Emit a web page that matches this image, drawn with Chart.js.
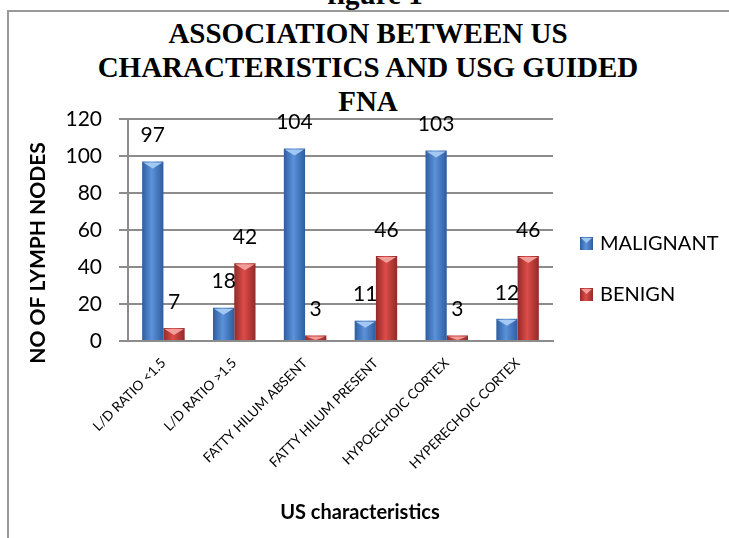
<!DOCTYPE html>
<html>
<head>
<meta charset="utf-8">
<script src="https://cdn.jsdelivr.net/npm/chart.js@4"></script>
<style>
  body { margin:0; background:#fff; }
  #wrap { position:relative; width:729px; height:538px; overflow:hidden; }
  #frame { position:absolute; left:7px; top:10px; width:740px; height:600px; border-left:2px solid #999; border-top:2px solid #999; }
  .ttl { position:absolute; left:0; width:736px; text-align:center; font-family:"Liberation Serif", serif; font-weight:bold; font-size:29px; line-height:34px; color:#000; }
  #fig { top:-23px; left:7px; }
  #title { top:16px; }
  canvas { position:absolute; left:0; top:0; }
</style>
</head>
<body>
<div id="wrap">
  <div id="fig" class="ttl">figure 1</div>
  <div id="frame"></div>
  <div id="title" class="ttl">ASSOCIATION BETWEEN US<br>CHARACTERISTICS AND USG GUIDED<br>FNA</div>
  <canvas id="chart" width="729" height="538"></canvas>
</div>
<script>
const categories = ['L/D RATIO <1.5','L/D RATIO >1.5','FATTY HILUM ABSENT','FATTY HILUM PRESENT','HYPOECHOIC CORTEX','HYPERECHOIC CORTEX'];
const malignant = [97, 18, 104, 11, 103, 12];
const benign = [7, 42, 3, 46, 3, 46];
const seriesNames = ['MALIGNANT','BENIGN'];
const yTicks = [0, 20, 40, 60, 80, 100, 120];

const palette = [
  {edge:'#2d5d9f', mid:'#5b92da', top:'#a3c8f2'},
  {edge:'#922a28', mid:'#dd4c48', top:'#f29e9a'}
];
const nb = n => '\u00a0'.repeat(n);

function shade(ctx, x0, x1, p){
  const g = ctx.createLinearGradient(x0,0,x1,0);
  g.addColorStop(0,p.edge); g.addColorStop(0.45,p.mid); g.addColorStop(1,p.edge);
  return g;
}

// shaded bars + top bevel + value labels
const barStyle = {
  id:'barStyle',
  beforeDatasetsDraw(chart){
    const ctx = chart.ctx;
    chart.data.datasets.forEach((ds,i)=>{
      chart.getDatasetMeta(i).data.forEach(bar=>{
        bar.options = Object.assign({}, bar.options, {backgroundColor: shade(ctx, bar.x-bar.width/2, bar.x+bar.width/2, palette[i])});
      });
    });
  },
  afterDatasetsDraw(chart){
    const ctx = chart.ctx;
    ctx.save();
    chart.data.datasets.forEach((ds,i)=>{
      chart.getDatasetMeta(i).data.forEach((bar,j)=>{
        const l = bar.x-bar.width/2, r = bar.x+bar.width/2;
        const h = Math.min(7, bar.base-bar.y);
        ctx.fillStyle = palette[i].top;
        ctx.beginPath();
        ctx.moveTo(l+1,bar.y+1); ctx.lineTo(r-1,bar.y+1); ctx.lineTo(bar.x,bar.y+h); ctx.closePath();
        ctx.fill();
        ctx.fillStyle = '#000';
        ctx.font = '21px Lato';
        ctx.textAlign = 'center';
        ctx.textBaseline = 'middle';
        ctx.fillText(String(ds.data[j]), bar.x, bar.y-26);
      });
    });
    ctx.restore();
  },
  afterDraw(chart){
    const ctx = chart.ctx, a = chart.chartArea;
    ctx.save();
    chart.data.datasets.forEach((ds,i)=>{
      const x = a.right+27, y = 243+i*51;
      ctx.fillStyle = shade(ctx, x, x+13, palette[i]);
      ctx.fillRect(x,y-6,13,13);
      ctx.fillStyle = palette[i].top;
      ctx.beginPath(); ctx.moveTo(x+1,y-5); ctx.lineTo(x+12,y-5); ctx.lineTo(x+6.5,y); ctx.closePath(); ctx.fill();
      ctx.fillStyle = '#000';
      ctx.font = '20px Lato';
      ctx.textAlign = 'left';
      ctx.textBaseline = 'middle';
      ctx.fillText(ds.label, x+20, y+1);
    });
    ctx.restore();
  }
};

new Chart(document.getElementById('chart').getContext('2d'),{
  type:'bar',
  data:{
    labels:categories,
    datasets:[
      {label:seriesNames[0], data:malignant, backgroundColor:palette[0].mid},
      {label:seriesNames[1], data:benign, backgroundColor:palette[1].mid}
    ]
  },
  options:{
    responsive:false,
    animation:false,
    layout:{ padding:{left:8, top:119, right:176, bottom:10} },
    plugins:{ legend:{display:false}, tooltip:{enabled:false} },
    datasets:{ bar:{ categoryPercentage:0.6, barPercentage:1 } },
    scales:{
      x:{
        grid:{ display:false },
        border:{ color:'#8c8c8c', width:2 },
        ticks:{ color:'#000', font:{family:'Lato', size:13.5}, minRotation:45, maxRotation:45, padding:6, autoSkip:false },
        title:{ display:true, text:nb(8)+'US characteristics', color:'#000', font:{family:'Lato', size:20, weight:'bold'}, padding:{top:4, bottom:3} },
        afterFit(s){ s.height = 187; }
      },
      y:{
        min:0, max:120,
        afterBuildTicks(s){ s.ticks = yTicks.map(v=>({value:v})); },
        grid:{ color:'#8c8c8c', lineWidth:2, tickLength:9 },
        border:{ color:'#8c8c8c', width:2 },
        ticks:{ color:'#000', font:{family:'Lato', size:21}, padding:17 },
        title:{ display:true, text:'NO OF LYMPH NODES'+nb(9), color:'#000', font:{family:'Lato', size:21, weight:'bold'}, padding:{top:18, bottom:0} },
        afterFit(s){ s.width = 120; }
      }
    }
  },
  plugins:[barStyle]
});
</script>
</body>
</html>
